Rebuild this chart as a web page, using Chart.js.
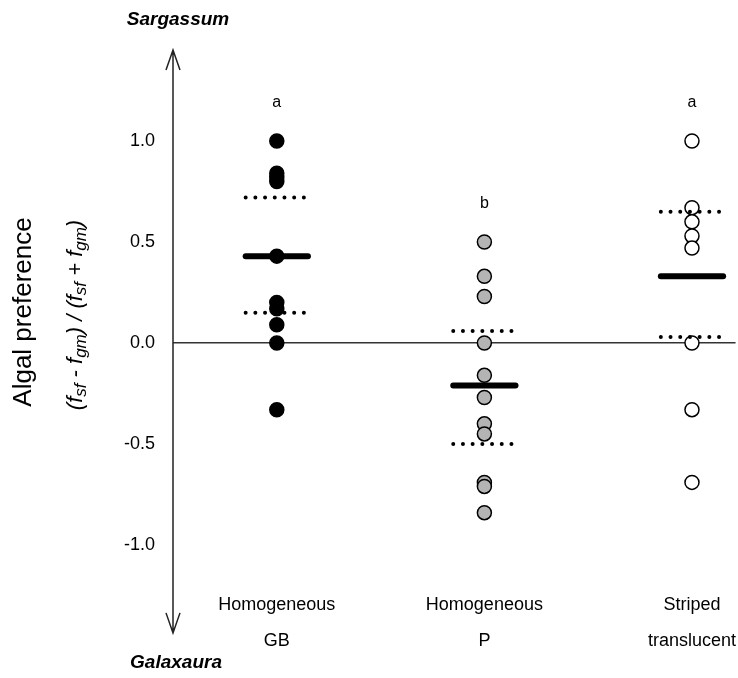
<!DOCTYPE html>
<html>
<head>
<meta charset="utf-8">
<script src="https://cdn.jsdelivr.net/npm/chart.js@4"></script>
<style>
body { margin: 0; background: #fff; }
#wrap { width: 738px; height: 678px; }
</style>
</head>
<body>
<div id="wrap"><canvas id="myChart"></canvas></div>
<script>
//groups along the x axis
let groupX = [1, 2, 3]
let groupLabels = [['Homogeneous', 'GB'], ['Homogeneous', 'P'], ['Striped', 'translucent']]
let letters = ['a', 'b', 'a']
let letterY = [1.19, 0.69, 1.19]

//single preference values
let gbValues = [1.0, 0.84, 0.82, 0.80, 0.43, 0.20, 0.17, 0.09, 0.0, -0.33]
let pValues = [0.5, 0.33, 0.23, 0.0, -0.16, -0.27, -0.40, -0.45, -0.69, -0.71, -0.84]
let stripedValues = [1.0, 0.67, 0.60, 0.53, 0.47, 0.0, -0.33, -0.69]

//median (thick bar) and quartiles (dotted bars)
let medians = [0.43, -0.21, 0.33]
let upperQ = [0.72, 0.06, 0.65]
let lowerQ = [0.15, -0.50, 0.03]

let yTicks = [-1.0, -0.5, 0, 0.5, 1.0]
let arrowTop = 1.45 //ends of the arrow axis
let arrowBottom = -1.435

const FONT = "Arial, 'Liberation Sans', sans-serif"
const halfW = 0.15 //half length of the bars, in x units

function bar(i, v, dotted) {
	return {
		data: [{ x: groupX[i] - halfW, y: v }, { x: groupX[i] + halfW, y: v }],
		showLine: true,
		borderColor: '#000',
		borderWidth: dotted ? 4 : 6,
		borderDash: dotted ? [0, 9.7] : [],
		borderCapStyle: 'round',
		pointRadius: 0
	}
}

function dots(i, values, fill) {
	return {
		data: values.map((v) => ({ x: groupX[i], y: v })),
		backgroundColor: fill,
		borderColor: '#000',
		borderWidth: 1.5,
		pointRadius: 7
	}
}

let datasets = []
for (let i = 0; i < 3; i++) {
	datasets.push(bar(i, medians[i], false))
	datasets.push(bar(i, upperQ[i], true))
	datasets.push(bar(i, lowerQ[i], true))
}
datasets.push(dots(0, gbValues, '#000'))
datasets.push(dots(1, pValues, '#b4b4b4'))
datasets.push(dots(2, stripedValues, '#fff'))

//arrow axis, letters, titles
const extras = {
	id: 'extras',
	afterDraw(chart) {
		const { ctx, chartArea } = chart
		const x = chart.scales.x
		const y = chart.scales.y
		ctx.save()
		let ax = chartArea.left
		let yT = y.getPixelForValue(arrowTop)
		let yB = y.getPixelForValue(arrowBottom)
		ctx.strokeStyle = '#222'
		ctx.lineWidth = 1.5
		ctx.beginPath()
		ctx.moveTo(ax, yT)
		ctx.lineTo(ax, yB)
		ctx.moveTo(ax - 7, yT + 20)
		ctx.lineTo(ax, yT)
		ctx.lineTo(ax + 7, yT + 20)
		ctx.moveTo(ax - 7, yB - 20)
		ctx.lineTo(ax, yB)
		ctx.lineTo(ax + 7, yB - 20)
		ctx.stroke()

		ctx.fillStyle = '#000'
		ctx.textAlign = 'center'
		ctx.textBaseline = 'middle'
		ctx.font = '16px ' + FONT
		letters.forEach((t, i) => {
			ctx.fillText(t, x.getPixelForValue(groupX[i]), y.getPixelForValue(letterY[i]))
		})

		ctx.font = 'italic bold 19px ' + FONT
		ctx.fillText('Sargassum', 178, 20)
		ctx.fillText('Galaxaura', 176, 663)

		//y axis title, two rotated lines
		ctx.translate(24, 312)
		ctx.rotate(-Math.PI / 2)
		ctx.font = '26px ' + FONT
		ctx.fillText('Algal preference', 0, 0)
		ctx.restore()

		let parts = [
			['(', 0], ['f', 0], ['sf', 1], [' - ', 0], ['f', 0], ['gm', 1],
			[') / (', 0], ['f', 0], ['sf', 1], [' + ', 0], ['f', 0], ['gm', 1], [')', 0]
		]
		ctx.save()
		ctx.translate(75, 315)
		ctx.rotate(-Math.PI / 2)
		ctx.fillStyle = '#000'
		ctx.textBaseline = 'alphabetic'
		ctx.textAlign = 'left'
		let total = 0
		parts.forEach((p) => {
			ctx.font = 'italic ' + (p[1] ? 17 : 22) + 'px ' + FONT
			total += ctx.measureText(p[0]).width
		})
		let px = -total / 2
		parts.forEach((p) => {
			ctx.font = 'italic ' + (p[1] ? 17 : 22) + 'px ' + FONT
			ctx.fillText(p[0], px, p[1] ? 11 : 7)
			px += ctx.measureText(p[0]).width
		})
		ctx.restore()
	}
}

let config = {
	type: 'scatter',
	data: { datasets },
	options: {
		responsive: true,
		maintainAspectRatio: false,
		animation: false,
		events: [],
		layout: {
			autoPadding: false, //keep the plot running to the right edge
			padding: { top: 50, left: 0, right: 0, bottom: 0 }
		},
		plugins: {
			legend: { display: false },
			tooltip: { enabled: false }
		},
		scales: {
			x: {
				type: 'linear',
				min: 0.5,
				max: 3.21,
				afterBuildTicks: (scale) => {
					scale.ticks = groupX.map((v) => ({ value: v }))
				},
				afterFit: (scale) => {
					scale.height = 93
				},
				grid: { display: false, drawTicks: false },
				border: { display: false },
				ticks: {
					padding: 2,
					maxRotation: 0,
					color: '#000',
					font: { family: FONT, size: 18, lineHeight: 2 },
					callback: (value, index) => groupLabels[index]
				}
			},
			y: {
				min: -1.198,
				max: 1.4505,
				afterBuildTicks: (scale) => {
					scale.ticks = yTicks.map((v) => ({ value: v }))
				},
				afterFit: (scale) => {
					scale.width = 173
				},
				grid: {
					drawTicks: false,
					color: (c) => (c.tick && c.tick.value === 0 ? '#333' : 'rgba(0,0,0,0)'),
					lineWidth: 1.5
				},
				border: { display: false },
				ticks: {
					padding: 18,
					color: '#000',
					font: { family: FONT, size: 18 },
					callback: (value) => value.toFixed(1)
				}
			}
		}
	},
	plugins: [extras]
}

let chart = new Chart(document.getElementById('myChart'), config)
</script>
</body>
</html>
